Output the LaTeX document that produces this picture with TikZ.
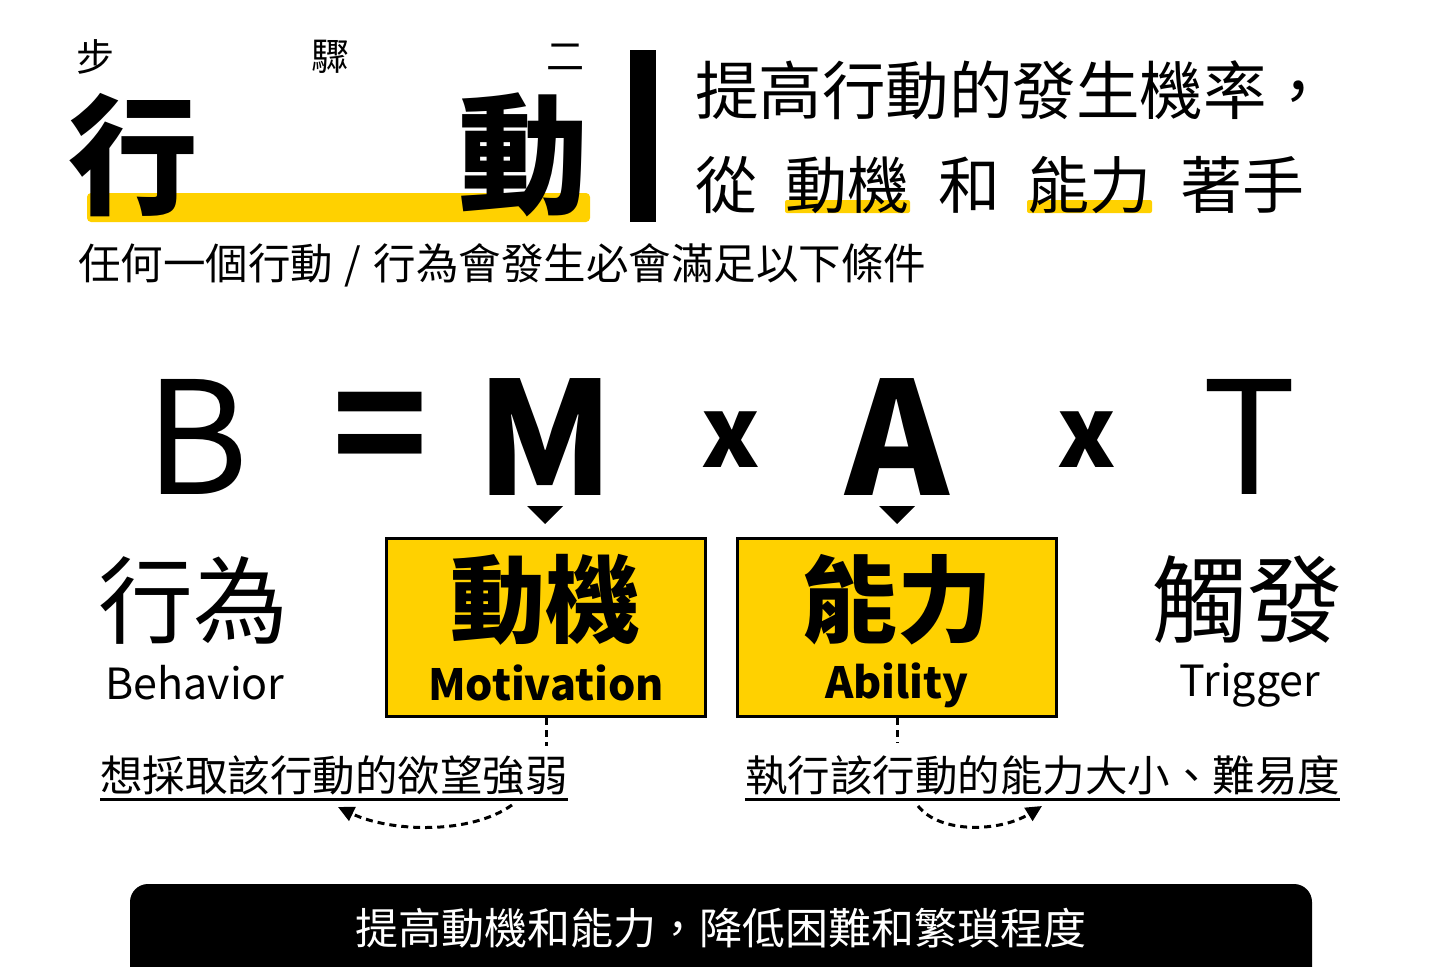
\documentclass[tikz,border=0pt]{standalone}
\usepackage{fontspec}
\setmainfont{Noto Sans CJK TC}
\usepackage{tikz}
\usetikzlibrary{arrows.meta}
\definecolor{hlyellow}{HTML}{FFD100}
\newcommand\fsz[1]{\fontsize{#1}{#1}\selectfont}

\begin{document}
\begin{tikzpicture}[x=1pt,y=-1pt,
    txt/.style={inner sep=0pt, outer sep=0pt},
    keybox/.style={draw=black, fill=hlyellow, line width=3pt,
                   minimum width=319pt, minimum height=178pt, inner sep=0pt},
    pointer/.style={line width=3pt, dash pattern=on 7pt off 5pt}]

  \useasboundingbox (0,0) rectangle (1442,966);

  % ================= title block =================
  \node[txt, font=\fsz{38}] (bu) at (95,57) {步};
  \node[txt, font=\fsz{38}] (zhou) at (330,57) {驟};
  \node[txt, font=\fsz{38}] (er) at (565,57) {二};
  \fill[hlyellow, rounded corners=4pt] (87,193) rectangle (590,222);
  \node[txt, font=\bfseries\fsz{130}] (xing) at (133,155) {行};
  \node[txt, font=\bfseries\fsz{130}] (dong) at (523,155) {動};
  \fill (630,50) rectangle (656,222);

  % ---- headline on the right ----
  \node[txt, anchor=west, font=\fsz{63.5}] (head) at (695,90) {提高行動的發生機率，};
  \fill[hlyellow, rounded corners=2pt] (785,200) rectangle (910,213);
  \fill[hlyellow, rounded corners=2pt] (1027,200) rectangle (1152,213);
  \node[txt, anchor=west, font=\fsz{62}] (wfrom) at (695,185) {從};
  \node[txt, anchor=west, font=\fsz{62}] (wmot) at (785,185) {動機};
  \node[txt, anchor=west, font=\fsz{62}] (wand) at (938,185) {和};
  \node[txt, anchor=west, font=\fsz{62}] (wabl) at (1027,185) {能力};
  \node[txt, anchor=west, font=\fsz{62}] (wstart) at (1180,185) {著手};

  \node[txt, anchor=west, font=\fsz{42.5}] (cond) at (78,265)
    {任何一個行動\kern12pt/\kern12pt行為會發生必會滿足以下條件};

  % ================= the formula =================
  \node[txt, font=\fsz{157}] (fB) at (197,437) {B};
  \node[txt, font=\bfseries\fsz{157}] (feq) at (380,437) {=};
  \node[txt, font=\bfseries\fsz{157}] (fM) at (545,437) {M};
  \node[txt, font=\bfseries\fsz{98}] (fx1) at (731,440) {x};
  \node[txt, font=\bfseries\fsz{157}] (fA) at (897,437) {A};
  \node[txt, font=\bfseries\fsz{98}] (fx2) at (1087,440) {x};
  \node[txt, font=\fsz{157}] (fT) at (1250,437) {T};

  \fill (527,506) -- (563,506) -- (545,524) -- cycle;
  \fill (879,506) -- (915,506) -- (897,524) -- cycle;

  % ---- the four terms ----
  \node[txt, font=\fsz{95}] (behz) at (193,600) {行為};
  \node[txt, font=\fsz{43}] (behe) at (195,683) {Behavior};

  \node[keybox] (motbox) at (546,627.5) {};
  \node[txt, font=\bfseries\fsz{95}] (motz) at (545,600) {動機};
  \node[txt, font=\bfseries\fsz{43}] (mote) at (546,683) {Motivation};

  \node[keybox] (ablbox) at (897,627.5) {};
  \node[txt, font=\bfseries\fsz{95}] (ablz) at (897,600) {能力};
  \node[txt, font=\bfseries\fsz{43}] (able) at (897,685) {Ability};

  \node[txt, font=\fsz{95}] (trgz) at (1247,600) {觸發};
  \node[txt, font=\fsz{43}] (trge) at (1250,685) {Trigger};

  % ---- what the two boxes mean ----
  \coordinate (motend) at (546,746);
  \coordinate (ablend) at (897,743);
  \draw[pointer] (motbox.south) -- (motend);
  \draw[pointer] (ablbox.south) -- (ablend);

  \node[txt, anchor=west, font=\fsz{42.5}] (motdesc) at (100,775) {想採取該行動的欲望強弱};
  \node[txt, anchor=west, font=\fsz{42.5}] (abldesc) at (745,775) {執行該行動的能力大小、難易度};
  \draw[line width=3pt] ([yshift=-5pt]motdesc.south west) -- ([yshift=-5pt]motdesc.south east);
  \draw[line width=3pt] ([yshift=-5pt]abldesc.south west) -- ([yshift=-5pt]abldesc.south east);

  \coordinate (motcurA) at (512,805);
  \coordinate (motcurB) at (338,807);
  \coordinate (ablcurA) at (918,806);
  \coordinate (ablcurB) at (1042,806);
  \draw[pointer, -{Triangle[length=16pt,width=15pt]}]
    (motcurA) .. controls (470,835) and (390,832) .. (motcurB);
  \draw[pointer, -{Triangle[length=16pt,width=15pt]}]
    (ablcurA) .. controls (940,834) and (1000,832) .. (ablcurB);

  % ================= bottom banner =================
  \fill[rounded corners=18pt] (130,1000) -- (130,884) -- (1312,884) -- (1312,1000) -- cycle;
  \node[txt, text=white, font=\fsz{43}] (motto) at (721,928) {提高動機和能力，降低困難和繁瑣程度};
\end{tikzpicture}
\end{document}
